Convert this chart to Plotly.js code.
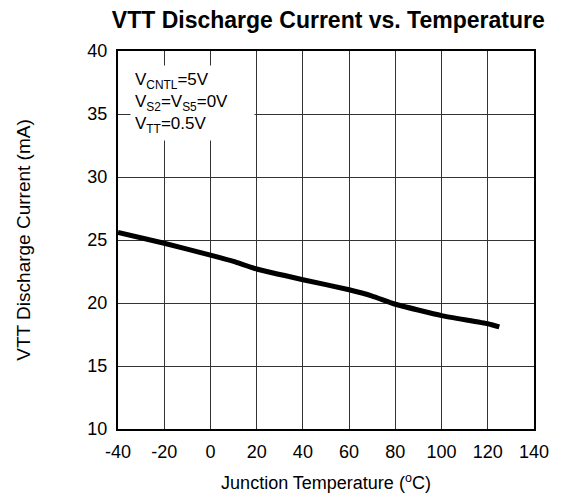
<!DOCTYPE html>
<html>
<head>
<meta charset="utf-8">
<script src="https://cdn.plot.ly/plotly-3.0.1.min.js"></script>
<style>html,body{margin:0;padding:0;background:#fff;}#chart{width:568px;height:500px;}</style>
</head>
<body>
<div id="chart"></div>
<script>
const temperature = [-40, -20, 0, 10, 20, 40, 60, 70, 80, 100, 120, 125];
const current = [25.6, 24.74, 23.8, 23.3, 22.7, 21.85, 21.05, 20.55, 19.9, 19.0, 18.35, 18.1];
const xTicks = [-40, -20, 0, 20, 40, 60, 80, 100, 120, 140];
const yTicks = [10, 15, 20, 25, 30, 35, 40];
const conditionText = 'V<sub>CNTL</sub>=5V<br>V<sub>S2</sub>=V<sub>S5</sub>=0V<br>V<sub>TT</sub>=0.5V';

const font = 'Liberation Sans, Arial, sans-serif';
const trace = {
  x: temperature, y: current, type: 'scatter', mode: 'lines',
  line: {color: '#000', width: 5, shape: 'spline', smoothing: 0.4},
  hoverinfo: 'skip'
};
const layout = {
  width: 568, height: 500,
  margin: {l: 118, r: 34, t: 51, b: 71},
  paper_bgcolor: '#fff', plot_bgcolor: '#fff',
  showlegend: false,
  font: {family: font, color: '#000', size: 16},
  title: {text: '<b>VTT Discharge Current vs. Temperature</b>', font: {family: font, size: 23, color: '#000'},
          x: 0.578, xanchor: 'center', y: 0.96, yanchor: 'middle'},
  xaxis: {
    range: [-40, 140], tickvals: xTicks, ticktext: xTicks.map(String),
    showgrid: true, gridcolor: '#333', gridwidth: 1,
    showline: true, linecolor: '#000', linewidth: 2, mirror: true,
    zeroline: false, ticks: '', ticklabelstandoff: 5,
    tickfont: {size: 18, family: font, color: '#000'},
    title: {text: 'Junction Temperature (<sup>o</sup>C)', font: {size: 18, family: font, color: '#000'}, standoff: 16}
  },
  yaxis: {
    range: [10, 40], tickvals: yTicks, ticktext: yTicks.map(String),
    showgrid: true, gridcolor: '#333', gridwidth: 1,
    showline: true, linecolor: '#000', linewidth: 2, mirror: true,
    zeroline: false, ticks: '', ticklabelstandoff: 5,
    tickfont: {size: 18, family: font, color: '#000'},
    title: {text: 'VTT Discharge Current (mA)', font: {size: 19, family: font, color: '#000'}, standoff: 52}
  },
  annotations: [{
    text: conditionText, xref: 'x', yref: 'y', x: -34.9, y: 38.9,
    xanchor: 'left', yanchor: 'top', align: 'left', showarrow: false,
    bgcolor: '#fff', borderpad: 4, width: 115, height: 66,
    font: {family: font, size: 17, color: '#000'}
  }]
};
Plotly.newPlot('chart', [trace], layout, {staticPlot: true, displayModeBar: false});
</script>
</body>
</html>
